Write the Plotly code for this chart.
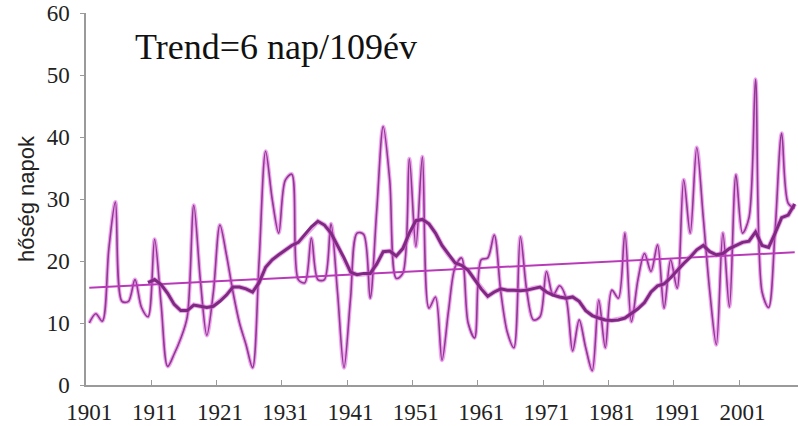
import plotly.graph_objects as go

years = list(range(1901, 2010))
heat_days = [
    10.0, 11.5, 10.3, 22.0, 29.5, 13.5, 13.5, 17.0, 12.5, 11.0,   # 1901-1910
    23.5, 13.0, 3.0, 5.0, 7.5, 11.0, 29.0, 17.0, 8.0, 15.0,       # 1911-1920
    25.8, 21.0, 15.0, 10.0, 6.5, 2.8, 20.0, 37.7, 30.0, 24.5,     # 1921-1930
    33.0, 34.0, 17.0, 16.5, 23.7, 17.0, 17.0, 26.0, 15.0, 2.8,    # 1931-1940
    14.0, 24.5, 24.3, 14.0, 28.0, 41.7, 33.0, 17.2, 18.0, 36.5,   # 1941-1950
    22.3, 36.8, 12.4, 14.2, 4.0, 12.0, 19.0, 20.5, 10.0, 7.6,     # 1951-1960
    20.2, 20.5, 24.2, 15.0, 8.5, 6.0, 23.9, 15.0, 10.5, 11.0,     # 1961-1970
    18.3, 14.5, 16.0, 14.0, 5.5, 10.5, 6.0, 2.3, 13.7, 6.0,       # 1971-1980
    15.3, 14.0, 24.5, 10.2, 17.0, 21.2, 18.3, 22.6, 12.4, 20.2,   # 1981-1990
    15.6, 33.1, 24.5, 38.3, 27.0, 15.0, 6.5, 24.5, 12.6, 33.9,    # 1991-2000
    24.5, 27.0, 49.3, 15.0, 12.5, 25.0, 40.6, 29.3, 28.5,         # 2001-2009
]

ma_years = list(range(1910, 2010))
moving_avg = [
    16.5, 17.0, 16.2, 14.8, 13.0, 12.0, 12.0, 12.9, 12.7, 12.5,   # 1910-1919
    12.7, 13.5, 14.5, 15.8, 15.8, 15.5, 15.0, 16.5, 19.0, 20.2,   # 1920-1929
    21.0, 21.8, 22.5, 23.0, 24.2, 25.5, 26.4, 25.8, 24.5, 22.5,   # 1930-1939
    20.5, 18.2, 17.8, 18.0, 18.0, 19.5, 21.5, 21.6, 20.8, 22.0,   # 1940-1949
    24.5, 26.5, 26.7, 26.0, 24.5, 22.5, 21.0, 19.7, 19.3, 18.5,   # 1950-1959
    17.0, 15.5, 14.3, 15.0, 15.5, 15.3, 15.3, 15.2, 15.3, 15.6,   # 1960-1969
    15.8, 15.0, 14.5, 14.2, 14.0, 14.2, 13.5, 12.0, 11.2, 10.8,   # 1970-1979
    10.5, 10.4, 10.5, 10.8, 11.5, 12.3, 13.3, 15.0, 16.0, 16.3,   # 1980-1989
    17.3, 18.5, 19.6, 20.6, 21.8, 22.5, 21.5, 21.0, 21.2, 22.0,   # 1990-1999
    22.5, 23.0, 23.2, 24.7, 22.5, 22.2, 24.5, 27.0, 27.4, 29.2,   # 2000-2009
]

trend_years = [1901, 2009]
trend_values = [15.7, 21.4]

x_tick_labels = [1901, 1911, 1921, 1931, 1941, 1951, 1961, 1971, 1981, 1991, 2001]
y_tick_values = [0, 10, 20, 30, 40, 50, 60]
title_text = "Trend=6 nap/109év"
y_title = "hőség napok"

fig = go.Figure()

# glow of the annual line
fig.add_trace(go.Scatter(
    x=years, y=heat_days, mode="lines",
    line=dict(color="rgba(225,90,225,0.55)", width=4, shape="spline", smoothing=0.9),
    hoverinfo="skip", showlegend=False,
))
fig.add_trace(go.Scatter(
    x=years, y=heat_days, mode="lines",
    line=dict(color="#8E3A90", width=1.6, shape="spline", smoothing=0.9),
    showlegend=False,
))
# trend line
fig.add_trace(go.Scatter(
    x=trend_years, y=trend_values, mode="lines",
    line=dict(color="#B83AB8", width=2),
    showlegend=False,
))
# moving average
fig.add_trace(go.Scatter(
    x=ma_years, y=moving_avg, mode="lines",
    line=dict(color="rgba(215,80,215,0.5)", width=5),
    hoverinfo="skip", showlegend=False,
))
fig.add_trace(go.Scatter(
    x=ma_years, y=moving_avg, mode="lines",
    line=dict(color="#7E2A80", width=3),
    showlegend=False,
))

fig.update_layout(
    width=798, height=426,
    margin=dict(l=86, r=0, t=13, b=41, autoexpand=False),
    paper_bgcolor="white", plot_bgcolor="white",
    xaxis=dict(
        range=[1900.5, 2009.5],
        tickvals=x_tick_labels,
        ticktext=[str(v) for v in x_tick_labels],
        ticks="", showgrid=False, zeroline=False,
        showline=True, linecolor="#9a9a9a", linewidth=1.5,
        tickfont=dict(family="Liberation Serif", size=23, color="#222222"),
        ticklabelstandoff=6,
        automargin=False,
        minor=dict(tickvals=[y - 0.5 for y in x_tick_labels[1:]], ticks="inside",
                   ticklen=5, tickcolor="#9a9a9a", showgrid=False),
        fixedrange=True,
    ),
    yaxis=dict(
        range=[0, 60],
        tickvals=y_tick_values,
        ticks="outside", ticklen=4, tickcolor="#9a9a9a",
        showgrid=False, zeroline=False,
        showline=True, linecolor="#9a9a9a", linewidth=1.5,
        tickfont=dict(family="Liberation Serif", size=23, color="#222222"),
        ticklabelstandoff=6,
        automargin=False,
        title=dict(text=y_title, font=dict(family="Liberation Sans", size=22, color="#222"), standoff=6),
        fixedrange=True,
    ),
    annotations=[dict(
        text=title_text, xref="paper", yref="paper", x=0.066, y=0.909,
        xanchor="left", yanchor="middle", showarrow=False,
        font=dict(family="Liberation Serif", size=36, color="#111"),
    )],
)

fig.write_html(
    "out.html",
    config={"displayModeBar": False},
    post_script="document.body.style.margin='0';document.body.style.overflow='hidden';",
)
